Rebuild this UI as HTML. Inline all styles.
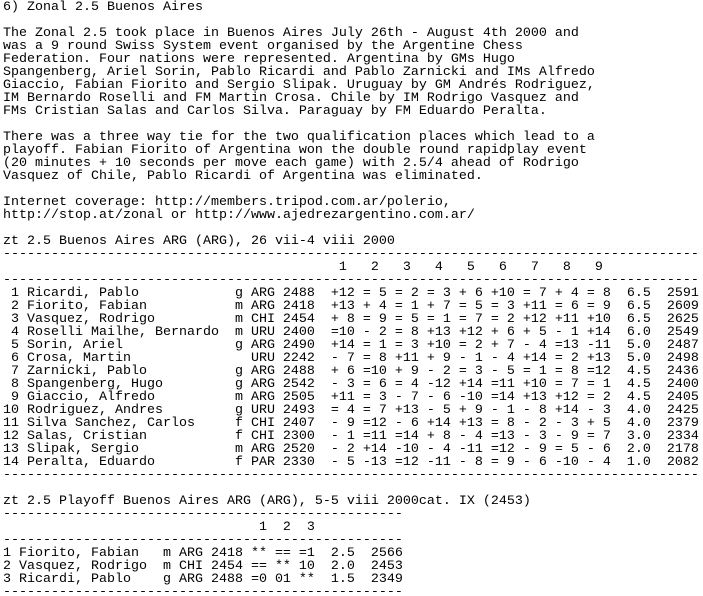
<!DOCTYPE html>
<html>
<head>
<meta charset="utf-8">
<style>
  html,body{margin:0;padding:0;background:#fff;width:703px;height:596px;overflow:hidden;}
  pre{margin:0;padding:1px 0 0 3px;font-family:"Liberation Mono",monospace;font-size:13.33px;line-height:13px;color:#000;}
</style>
</head>
<body>
<pre><span>6) Zonal 2.5 Buenos Aires</span>

<span>The Zonal 2.5 took place in Buenos Aires July 26th - August 4th 2000 and
was a 9 round Swiss System event organised by the Argentine Chess
Federation. Four nations were represented. Argentina by GMs Hugo
Spangenberg, Ariel Sorin, Pablo Ricardi and Pablo Zarnicki and IMs Alfredo
Giaccio, Fabian Fiorito and Sergio Slipak. Uruguay by GM Andrés Rodriguez,
IM Bernardo Roselli and FM Martin Crosa. Chile by IM Rodrigo Vasquez and
FMs Cristian Salas and Carlos Silva. Paraguay by FM Eduardo Peralta.</span>

<span>There was a three way tie for the two qualification places which lead to a
playoff. Fabian Fiorito of Argentina won the double round rapidplay event
(20 minutes + 10 seconds per move each game) with 2.5/4 ahead of Rodrigo
Vasquez of Chile, Pablo Ricardi of Argentina was eliminated.</span>

<span>Internet coverage: <span>http://members.tripod.com.ar/polerio</span>,
<span>http://stop.at/zonal</span> or <span>http://www.ajedrezargentino.com.ar/</span></span>

<span>zt 2.5 Buenos Aires ARG (ARG), 26 vii-4 viii 2000</span>
---------------------------------------------------------------------------------------
<span>                                          1   2   3   4   5   6   7   8   9</span>
---------------------------------------------------------------------------------------
<span> 1 Ricardi, Pablo            g ARG 2488  +12 = 5 = 2 = 3 + 6 +10 = 7 + 4 = 8  6.5  2591
 2 Fiorito, Fabian           m ARG 2418  +13 + 4 = 1 + 7 = 5 = 3 +11 = 6 = 9  6.5  2609
 3 Vasquez, Rodrigo          m CHI 2454  + 8 = 9 = 5 = 1 = 7 = 2 +12 +11 +10  6.5  2625
 4 Roselli Mailhe, Bernardo  m URU 2400  =10 - 2 = 8 +13 +12 + 6 + 5 - 1 +14  6.0  2549
 5 Sorin, Ariel              g ARG 2490  +14 = 1 = 3 +10 = 2 + 7 - 4 =13 -11  5.0  2487
 6 Crosa, Martin               URU 2242  - 7 = 8 +11 + 9 - 1 - 4 +14 = 2 +13  5.0  2498
 7 Zarnicki, Pablo           g ARG 2488  + 6 =10 + 9 - 2 = 3 - 5 = 1 = 8 =12  4.5  2436
 8 Spangenberg, Hugo         g ARG 2542  - 3 = 6 = 4 -12 +14 =11 +10 = 7 = 1  4.5  2400
 9 Giaccio, Alfredo          m ARG 2505  +11 = 3 - 7 - 6 -10 =14 +13 +12 = 2  4.5  2405
10 Rodriguez, Andres         g URU 2493  = 4 = 7 +13 - 5 + 9 - 1 - 8 +14 - 3  4.0  2425
11 Silva Sanchez, Carlos     f CHI 2407  - 9 =12 - 6 +14 +13 = 8 - 2 - 3 + 5  4.0  2379
12 Salas, Cristian           f CHI 2300  - 1 =11 =14 + 8 - 4 =13 - 3 - 9 = 7  3.0  2334
13 Slipak, Sergio            m ARG 2520  - 2 +14 -10 - 4 -11 =12 - 9 = 5 - 6  2.0  2178
14 Peralta, Eduardo          f PAR 2330  - 5 -13 =12 -11 - 8 = 9 - 6 -10 - 4  1.0  2082</span>
---------------------------------------------------------------------------------------

<span>zt 2.5 Playoff Buenos Aires ARG (ARG), 5-5 viii 2000cat. IX (2453)</span>
--------------------------------------------------
<span>                                1  2  3</span>
--------------------------------------------------
<span>1 Fiorito, Fabian   m ARG 2418 ** == =1  2.5  2566
2 Vasquez, Rodrigo  m CHI 2454 == ** 10  2.0  2453
3 Ricardi, Pablo    g ARG 2488 =0 01 **  1.5  2349</span>
--------------------------------------------------</pre>
</body>
</html>
